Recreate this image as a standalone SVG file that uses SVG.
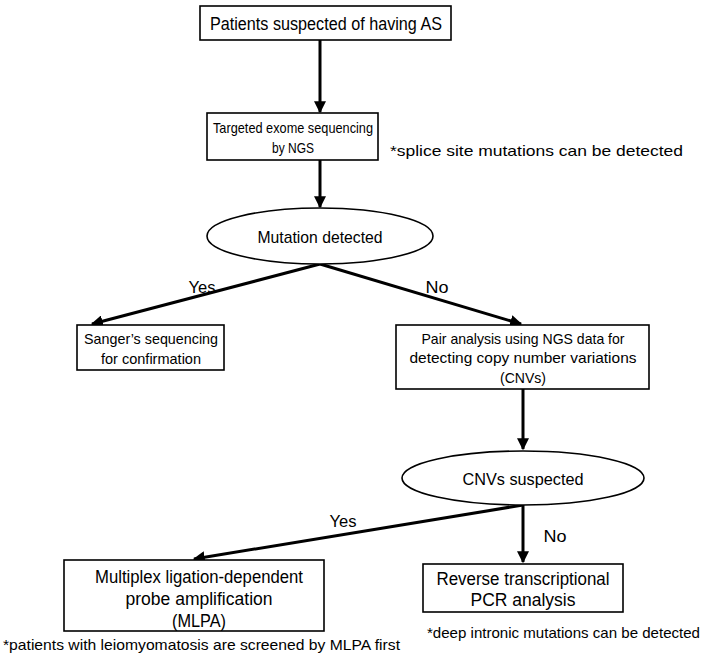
<svg xmlns="http://www.w3.org/2000/svg" width="702" height="661" viewBox="0 0 702 661">
<style>
.box{fill:#fff;stroke:#000;stroke-width:1.6}
.t{font-family:"Liberation Sans",Arial,sans-serif;font-size:15px;fill:#000;text-anchor:middle}
.n{font-family:"Liberation Sans",Arial,sans-serif;font-size:14.5px;fill:#000}
.c{stroke:#000;stroke-width:3;fill:none;marker-end:url(#ah)}
</style>
<defs>
<marker id="ah" viewBox="0 0 10 10" refX="9" refY="5" markerWidth="4" markerHeight="4" orient="auto" markerUnits="strokeWidth">
<path d="M0,0 L10,5 L0,10 z" fill="#000"/>
</marker>
</defs>
<rect width="702" height="661" fill="#fff"/>
<g id="connectors">
<line class="c" x1="320" y1="40" x2="320" y2="112"/>
<line class="c" x1="320" y1="160" x2="320" y2="207"/>
<line class="c" x1="320" y1="264" x2="92" y2="324"/>
<line class="c" x1="320" y1="264" x2="521" y2="324"/>
<line class="c" x1="523" y1="389" x2="523" y2="449"/>
<line class="c" x1="523" y1="505" x2="194" y2="559"/>
<line class="c" x1="523" y1="505" x2="523" y2="562"/>
<text class="t" x="202" y="293" style="font-size:16px" textLength="27" lengthAdjust="spacingAndGlyphs">Yes</text>
<text class="t" x="437" y="293" style="font-size:16px" textLength="23" lengthAdjust="spacingAndGlyphs">No</text>
<text class="t" x="343" y="527" style="font-size:16px" textLength="27" lengthAdjust="spacingAndGlyphs">Yes</text>
<text class="t" x="555" y="542" style="font-size:16px" textLength="23" lengthAdjust="spacingAndGlyphs">No</text>
</g>
<g id="n1">
<rect class="box" x="200" y="6" width="251" height="34"/>
<text class="t" x="326" y="30" style="font-size:17.5px" textLength="232" lengthAdjust="spacingAndGlyphs">Patients suspected of having AS</text>
</g>
<g id="n2">
<rect class="box" x="207" y="113" width="171" height="47"/>
<text class="t" x="293" y="133" style="font-size:15px" textLength="160" lengthAdjust="spacingAndGlyphs">Targeted exome sequencing</text>
<text class="t" x="293" y="153" style="font-size:15px" textLength="42" lengthAdjust="spacingAndGlyphs">by NGS</text>
</g>
<text class="n" x="390" y="156" textLength="293" lengthAdjust="spacingAndGlyphs">*splice site mutations can be detected</text>
<g id="n3">
<ellipse class="box" cx="320" cy="236" rx="113" ry="28"/>
<text class="t" x="320" y="243" style="font-size:17px" textLength="125" lengthAdjust="spacingAndGlyphs">Mutation detected</text>
</g>
<g id="n4">
<rect class="box" x="77" y="325" width="147" height="45"/>
<text class="t" x="151" y="344" style="font-size:15px" textLength="134" lengthAdjust="spacingAndGlyphs">Sanger’s sequencing</text>
<text class="t" x="151" y="364" style="font-size:15px" textLength="100" lengthAdjust="spacingAndGlyphs">for confirmation</text>
</g>
<g id="n5">
<rect class="box" x="396" y="325" width="253" height="64"/>
<text class="t" x="523" y="344" style="font-size:15px" textLength="203" lengthAdjust="spacingAndGlyphs">Pair analysis using NGS data for</text>
<text class="t" x="523" y="363" style="font-size:15px" textLength="227" lengthAdjust="spacingAndGlyphs">detecting copy number variations</text>
<text class="t" x="523" y="383" style="font-size:15px" textLength="46" lengthAdjust="spacingAndGlyphs">(CNVs)</text>
</g>
<g id="n6">
<ellipse class="box" cx="523" cy="478" rx="121" ry="27"/>
<text class="t" x="523" y="485" style="font-size:17px" textLength="121" lengthAdjust="spacingAndGlyphs">CNVs suspected</text>
</g>
<g id="n7">
<rect class="box" x="64" y="560" width="260" height="71"/>
<text class="t" x="199" y="583" style="font-size:17.5px" textLength="208" lengthAdjust="spacingAndGlyphs">Multiplex ligation-dependent</text>
<text class="t" x="199" y="605" style="font-size:17.5px" textLength="147" lengthAdjust="spacingAndGlyphs">probe amplification</text>
<text class="t" x="199" y="627" style="font-size:17.5px" textLength="54" lengthAdjust="spacingAndGlyphs">(MLPA)</text>
</g>
<text class="n" x="3" y="650" style="font-size:15px" textLength="397" lengthAdjust="spacingAndGlyphs">*patients with leiomyomatosis are screened by MLPA first</text>
<g id="n8">
<rect class="box" x="423" y="564" width="200" height="48"/>
<text class="t" x="523" y="585" style="font-size:17.5px" textLength="173" lengthAdjust="spacingAndGlyphs">Reverse transcriptional</text>
<text class="t" x="523" y="606" style="font-size:17.5px" textLength="105" lengthAdjust="spacingAndGlyphs">PCR analysis</text>
</g>
<text class="n" x="427" y="638" textLength="273" lengthAdjust="spacingAndGlyphs">*deep intronic mutations can be detected</text>
</svg>
